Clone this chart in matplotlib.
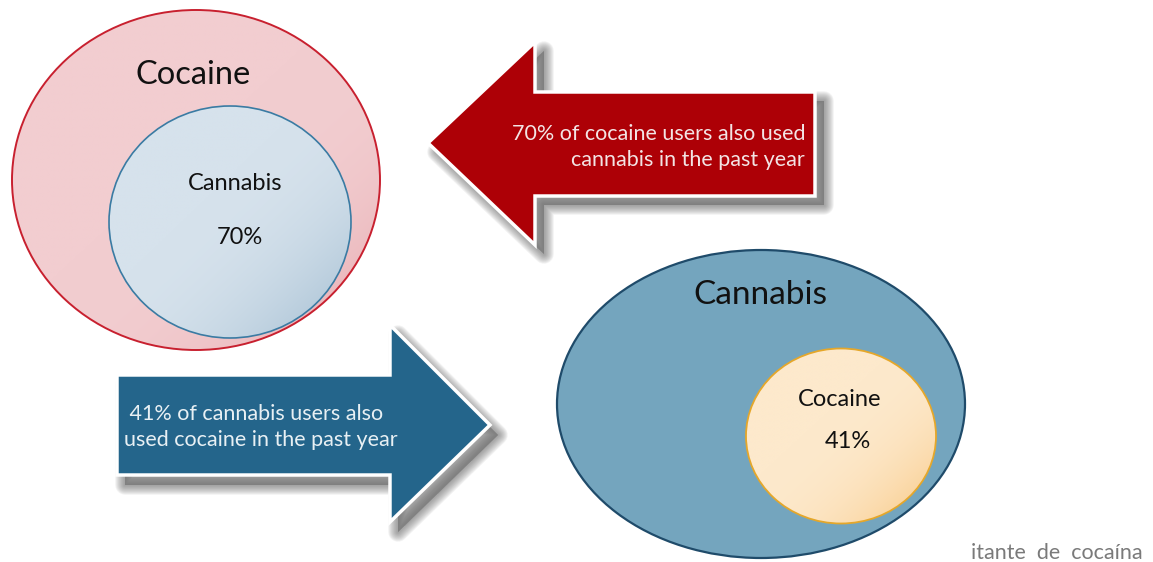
import numpy as np
import matplotlib
matplotlib.use("Agg")
import matplotlib.pyplot as plt
from matplotlib.patches import Ellipse, Polygon
from matplotlib.colors import to_rgb

plt.rcParams["font.family"] = ["Lato", "DejaVu Sans"]

# values shown on the diagram
outer_labels = ["Cocaine", "Cannabis"]
inner_labels = ["Cannabis", "Cocaine"]
share_pct = [70, 41]
arrow_texts = [
    "70% of cocaine users also used\ncannabis in the past year",
    " 41% of cannabis users also\nused cocaine in the past year",
]
footer = "itante  de  cocaína"

W, H = 1153, 562
fig = plt.figure(figsize=(W / 100, H / 100), dpi=100)
ax = fig.add_axes([0, 0, 1, 1])


def gradient_ellipse(ax, center, w, h, c0, c1, edge, lw, power=2.0, start=0.35, z=2):
    """Ellipse filled with a diagonal gradient, darker towards the lower right."""
    cx, cy = center
    x0, x1 = cx - w / 2, cx + w / 2
    y0, y1 = cy - h / 2, cy + h / 2
    xs = np.linspace(0, 1, 300)
    ys = np.linspace(0, 1, 300)
    gx, gy = np.meshgrid(xs, ys)
    t = (gx + gy) / 2
    t = np.clip((t - start) / (1 - start), 0, 1) ** power
    a, b = np.array(to_rgb(c0)), np.array(to_rgb(c1))
    img = a[None, None, :] * (1 - t[..., None]) + b[None, None, :] * t[..., None]
    e = Ellipse(center, w, h, facecolor="none", edgecolor=edge, linewidth=lw, zorder=z + 0.5)
    ax.add_patch(e)
    im = ax.imshow(img, extent=(x0, x1, y1, y0), origin="upper",
                   interpolation="bilinear", zorder=z)
    im.set_clip_path(e)
    return e


def shadowed_arrow(ax, pts, color, offset):
    pts = np.array(pts, dtype=float)
    # soft grey drop shadow built up from stacked translucent copies
    for lw in np.linspace(14, 1, 10):
        ax.add_patch(Polygon(pts + offset, closed=True, facecolor="#6e6e6e",
                             edgecolor="#6e6e6e", linewidth=lw, alpha=0.09,
                             joinstyle="round", zorder=4))
    ax.add_patch(Polygon(pts, closed=True, facecolor=color, edgecolor="white",
                         linewidth=2.5, joinstyle="miter", zorder=5))


# --- left pair: cocaine users ---
gradient_ellipse(ax, (196, 180), 368, 340, "#f2cdd0", "#e39ea4", "#c8202f", 1.4,
                 power=3.0, start=0.45, z=2)
gradient_ellipse(ax, (230, 222), 242, 232, "#d6e2ec", "#9fbbd0", "#3a7ba3", 1.2,
                 power=2.2, start=0.4, z=3)
ax.text(193, 75, outer_labels[0], fontsize=23.5, ha="center", va="center",
        color="#111111", zorder=6)
ax.text(235, 184, inner_labels[0], fontsize=17, ha="center", va="center",
        color="#111111", zorder=6)
ax.text(240, 238, f"{share_pct[0]}%", fontsize=17, ha="center", va="center",
        color="#111111", zorder=6)

# --- right pair: cannabis users ---
ax.add_patch(Ellipse((761, 404), 408, 308, facecolor="#74a5be",
                     edgecolor="#1f4b6a", linewidth=1.6, zorder=2))
gradient_ellipse(ax, (841, 436), 190, 175, "#fde9cc", "#f8c47a", "#e5a72a", 1.3,
                 power=2.4, start=0.4, z=3)
ax.text(760, 295, outer_labels[1], fontsize=24, ha="center", va="center",
        color="#111111", zorder=6)
ax.text(840, 399, inner_labels[1], fontsize=17, ha="center", va="center",
        color="#111111", zorder=6)
ax.text(848, 441, f"{share_pct[1]}%", fontsize=17, ha="center", va="center",
        color="#111111", zorder=6)

# --- arrows ---
red_arrow = [(428, 143), (535, 42), (535, 92), (815, 92), (815, 196),
             (535, 196), (535, 245)]
blue_arrow = [(117, 375), (390, 375), (390, 325), (490, 425), (390, 522),
              (390, 475), (117, 475)]
shadowed_arrow(ax, red_arrow, "#ad0006", (9, 9))
shadowed_arrow(ax, blue_arrow, "#24658b", (8, 10))

ax.text(805, 147, arrow_texts[0], fontsize=15.5, ha="right", va="center",
        color="#f3e4e4", linespacing=1.4, zorder=6)
ax.text(124, 427, arrow_texts[1], fontsize=15.5, ha="left", va="center",
        color="#e8f0f4", linespacing=1.4, zorder=6)

ax.text(1143, 553, footer, fontsize=15.5, ha="right", va="center",
        color="#7a7a7a", zorder=6)

ax.set_xlim(0, W)
ax.set_ylim(H, 0)
ax.set_aspect("auto")
ax.axis("off")

fig.savefig("out.png", dpi=100, facecolor="white")
